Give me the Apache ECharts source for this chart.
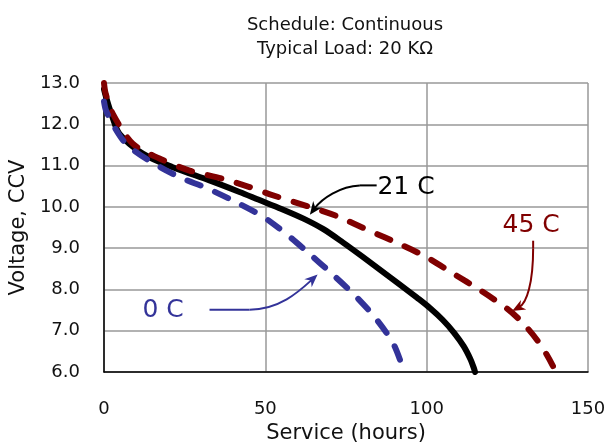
<!DOCTYPE html>
<html><head><meta charset="utf-8">
<script src="https://cdn.jsdelivr.net/npm/echarts@6/dist/echarts.min.js"></script>
<style>html,body{margin:0;padding:0;background:#fff}#c{width:608px;height:446px}</style>
</head><body><div id="c"></div>
<script>
// Data: [hours, volts]
const series0C = [[0,12.55],[0.6,12.34],[2.7,12.0],[6.8,11.53],[14,11.12],[23.4,10.72],[31.7,10.46],[40,10.15],[48.1,9.82],[51.2,9.66],[57.5,9.28],[63.7,8.86],[70.9,8.36],[78.2,7.82],[84.4,7.28],[89.5,6.71],[92.2,6.2],[93,6.0]];
const series21C = [[0,12.85],[0.6,12.67],[2.5,12.2],[4.8,11.77],[12,11.29],[21.3,10.96],[32.7,10.64],[42,10.36],[48,10.17],[55,9.95],[62,9.71],[68,9.46],[74,9.14],[80,8.8],[86,8.45],[92,8.1],[97,7.8],[101,7.55],[105,7.26],[108.5,6.95],[111.5,6.62],[113.5,6.32],[114.6,6.1],[115,6.0]];
const series45C = [[0,13.0],[0.5,12.75],[2.7,12.26],[8.9,11.53],[17.2,11.17],[26.5,10.88],[36.8,10.68],[45.1,10.48],[51.2,10.31],[63.7,10.0],[72,9.78],[82.3,9.42],[91.6,9.1],[100,8.78],[108.3,8.38],[116.6,7.98],[124.8,7.54],[130,7.17],[135.1,6.68],[139.1,6.15],[139.6,6.0]];
const seriesNames = ['0 C','21 C','45 C'];
const xTicks = [0,50,100,150];
const yTicks = [6,7,8,9,10,11,12,13];

// Annotations (data coordinates): label anchor, straight lead-in, then bezier (p0, c1, c2, tip)
const annotations = [
  {name:'21 C', color:'#000000', label:[93.6,10.48], path:[[84.5,10.52],[79.3,10.52],[73.1,10.5],[67.5,10.2],[63.8,9.81]]},
  {name:'0 C', color:'#333399', label:[18.3,7.5], path:[[32.7,7.51],[45.1,7.51],[54.5,7.51],[60.7,7.97],[66.2,8.36]]},
  {name:'45 C', color:'#800000', label:[132.4,9.55], path:[[133.0,9.18],[133.0,9.0],[133.0,8.15],[131.0,7.67],[126.5,7.48]]}
];

const FONT = 'DejaVu Sans';
const chart = echarts.init(document.getElementById('c'), null, {renderer:'canvas'});

function renderAnno(params, api) {
  const a = annotations[params.dataIndex];
  const p = a.path.map(pt => api.coord(pt));
  const lbl = api.coord(a.label);
  const tip = p[4], c2 = p[3];
  const dx = tip[0]-c2[0], dy = tip[1]-c2[1];
  const len = Math.sqrt(dx*dx+dy*dy) || 1;
  const ux = dx/len, uy = dy/len;
  const L = 13, W = 5.5;
  const bx = tip[0]-ux*L, by = tip[1]-uy*L;
  const head = [[tip[0],tip[1]],[bx - uy*W, by + ux*W],[bx + ux*4, by + uy*4],[bx + uy*W, by - ux*W]];
  const endX = tip[0]-ux*8, endY = tip[1]-uy*8;
  return {type:'group', children:[
    {type:'polyline', shape:{points:[p[0],p[1]]}, style:{stroke:a.color, lineWidth:2, fill:null}},
    {type:'bezierCurve', shape:{x1:p[1][0],y1:p[1][1],cpx1:p[2][0],cpy1:p[2][1],cpx2:p[3][0],cpy2:p[3][1],x2:endX,y2:endY}, style:{stroke:a.color, lineWidth:2, fill:null}},
    {type:'polygon', shape:{points:head}, style:{fill:a.color}},
    {type:'text', style:{text:a.name, x:lbl[0], y:lbl[1], fill:a.color, font:'25px "'+FONT+'"', textAlign:'center', textVerticalAlign:'middle'}}
  ]};
}

const dashStyle = (color) => ({color:color, width:6, type:[14,16], cap:'round', join:'round'});

chart.setOption({
  animation:false,
  backgroundColor:'#fff',
  title:{text:'Schedule: Continuous\nTypical Load: 20 KΩ', left:340, top:8, textAlign:'center',
    textStyle:{fontFamily:FONT, fontSize:18, fontWeight:'normal', color:'#111', lineHeight:24}},
  grid:{left:104, right:20, top:83, bottom:74, show:false, containLabel:false, outerBoundsMode:'none'},
  xAxis:{type:'value', min:xTicks[0], max:xTicks[xTicks.length-1], interval:50,
    name:'Service (hours)', nameLocation:'middle', nameGap:48,
    nameTextStyle:{fontFamily:FONT, fontSize:21, color:'#111', verticalAlign:'top'},
    axisLine:{show:true, onZero:false, lineStyle:{color:'#000', width:1.5}},
    axisTick:{show:false},
    axisLabel:{fontFamily:FONT, fontSize:18, color:'#111', margin:28},
    splitLine:{show:true, lineStyle:{color:'#999', width:1.5}}},
  yAxis:{type:'value', min:yTicks[0], max:yTicks[yTicks.length-1], interval:1,
    name:'Voltage, CCV', nameLocation:'middle', nameGap:68, nameRotate:90,
    nameTextStyle:{fontFamily:FONT, fontSize:21, color:'#111'},
    axisLine:{show:true, onZero:false, lineStyle:{color:'#000', width:1.5}},
    axisTick:{show:false},
    axisLabel:{fontFamily:FONT, fontSize:18, color:'#111', margin:24, formatter:v=>v.toFixed(1)},
    splitLine:{show:true, lineStyle:{color:'#999', width:1.5}}},
  series:[
    {name:seriesNames[1], type:'line', data:series21C, smooth:0.3, showSymbol:false, z:3,
      lineStyle:{color:'#000', width:6, cap:'round', join:'round'}},
    {name:seriesNames[2], type:'line', data:series45C, smooth:0.3, showSymbol:false, z:4,
      lineStyle:dashStyle('#800000')},
    {name:seriesNames[0], type:'line', data:series0C, smooth:0.3, showSymbol:false, z:4,
      lineStyle:dashStyle('#333399')},
    {type:'custom', renderItem:renderAnno, data:annotations.map((a,i)=>i), z:6, clip:false}
  ]
});
</script></body></html>
